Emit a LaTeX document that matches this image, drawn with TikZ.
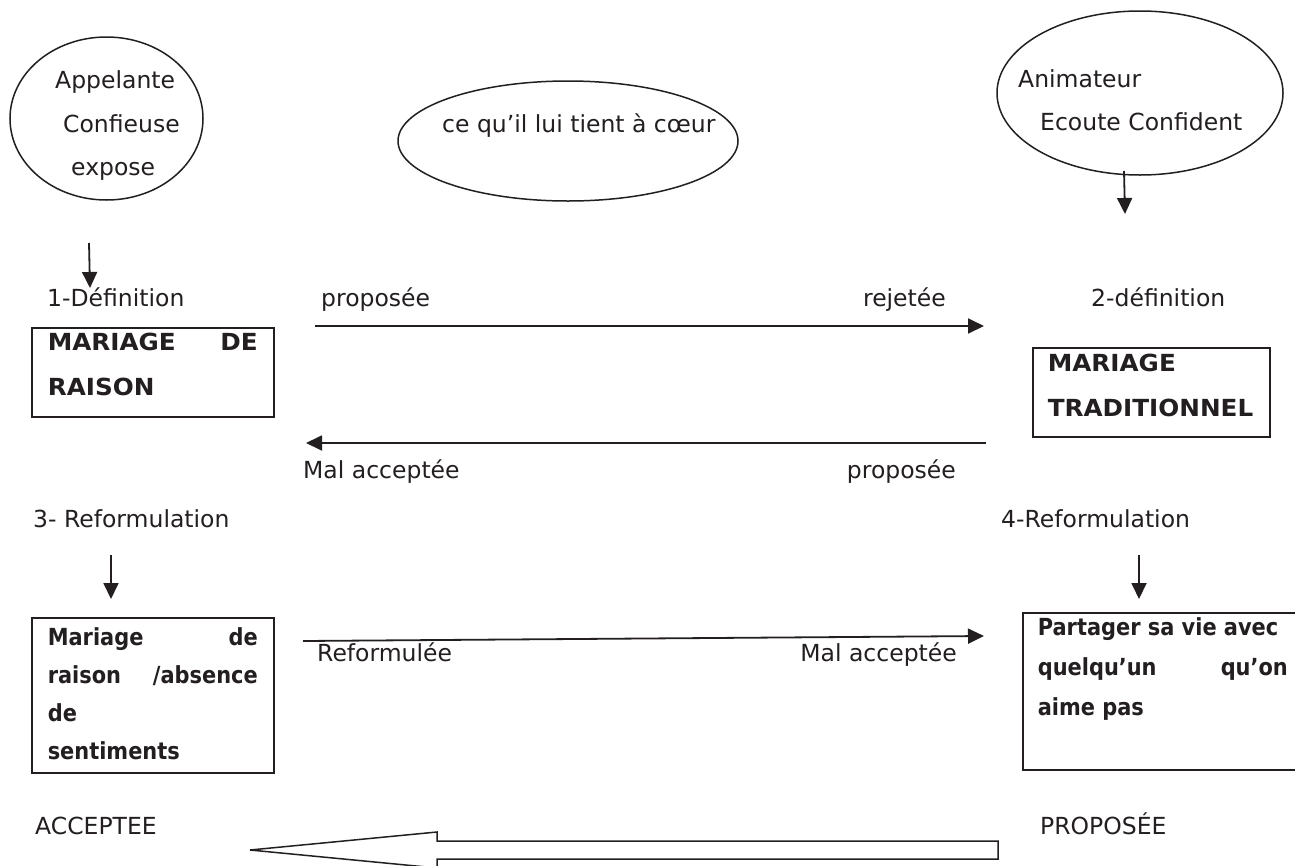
\documentclass[tikz,border=0pt]{standalone}
\usepackage{fontspec}
\setmainfont{DejaVu Sans}
% bold faces for the framed texts: wide capitals, narrower lower case
\newfontfamily\capsfont{DejaVu Sans Bold}[FakeStretch=1.05]
\newfontfamily\lowfont{DejaVu Sans Bold}[FakeStretch=0.89]
\usetikzlibrary{arrows.meta,shapes.geometric}
\definecolor{ink}{RGB}{35,31,32}
% framed text: total width, total height, left margin, text width, first baseline, line spacing, text
\newcommand\boxbody[7]{\parbox[c][#2][t]{#1}{\hspace*{#3}\parbox[t]{#4}{\baselineskip=#6\relax\rule{0pt}{#5}#7}}}
\begin{document}
\begin{tikzpicture}[x=1pt,y=-1pt,
  every node/.style={font=\fontsize{23.5}{28}\selectfont, text=ink, inner sep=0pt},
  lbl/.style={anchor=base west},
  lble/.style={anchor=base east},
  bubble/.style={draw=ink, ellipse, line width=1.5pt},
  frame/.style={draw=ink, line width=1.6pt, anchor=north west},
  capsframe/.style={frame, font=\fontsize{23.5}{28}\capsfont},
  lowframe/.style={frame, font=\fontsize{23.5}{28}\lowfont},
  link/.style={draw=ink, line width=1.8pt, -{Triangle[length=16pt,width=15pt]}},
]
\fill[white] (0,0) rectangle (1295,865);
\useasboundingbox (0,0) rectangle (1295,865);

% the three speakers / topic
\node[bubble, minimum width=193pt, minimum height=163pt] (appelante) at (106.5,118.5) {};
\node[lbl] (tapp1) at (55,88) {Appelante};
\node[lbl] (tapp2) at (63,132) {Confieuse};
\node[lbl] (tapp3) at (71,175) {expose};

\node[bubble, minimum width=340pt, minimum height=120pt] (sujet) at (568,141) {};
\node[lbl] (tsujet) at (442,132) {ce qu’il lui tient à cœur};

\node[bubble, minimum width=286pt, minimum height=164pt] (animateur) at (1140,93) {};
\node[lbl] (tani1) at (1018,87) {Animateur};
\node[lbl] (tani2) at (1040,130) {Ecoute Confident};

% first exchange
\node[lbl] (def1) at (47,306) {1-Définition};
\node[lbl] (prop1) at (321,306) {proposée};
\node[lble] (rej1) at (946,306) {rejetée};
\node[lbl] (def2) at (1091,306) {2-définition};

\node[capsframe] (box1) at (31,327)
  {\boxbody{242pt}{89pt}{16pt}{210pt}{23pt}{45pt}{MARIAGE\hfill DE\\RAISON}};
\node[capsframe] (box2) at (1032,347)
  {\boxbody{237pt}{89pt}{15pt}{218pt}{24pt}{45pt}{MARIAGE\\TRADITIONNEL}};

\node[lbl] (mal1) at (303,478) {Mal acceptée};
\node[lble] (prop2) at (956,478) {proposée};

% reformulations
\node[lbl] (ref3) at (33,527) {3- Reformulation};
\node[lbl] (ref4) at (1001,527) {4-Reformulation};

\node[lowframe] (box3) at (31,617)
  {\boxbody{242pt}{155pt}{16pt}{210pt}{28pt}{38pt}{Mariage\hfill de\\raison\hfill /absence\\de\\sentiments}};
\node[lowframe] (box4) at (1022,612)
  {\boxbody{280pt}{157pt}{15pt}{250pt}{23pt}{40pt}{Partager sa vie avec\\quelqu’un\hfill qu’on\\aime pas}};

\node[lbl] (refo) at (317,661) {Reformulée};
\node[lble] (mal2) at (957,661) {Mal acceptée};

\node[lbl] (acc) at (35,834) {ACCEPTEE};
\node[lbl] (prop3) at (1040,834) {PROPOSÉE};

% arrow end points
\coordinate (d1a) at (89,243);   \coordinate (d1b) at (90,288);
\coordinate (d2a) at (1124,171); \coordinate (d2b) at (1125,214);
\coordinate (h1a) at (315,326);  \coordinate (h1b) at (984,326);
\coordinate (h2a) at (986,443);  \coordinate (h2b) at (306,443);
\coordinate (d3a) at (111,555);  \coordinate (d3b) at (111,599);
\coordinate (d4a) at (1139,555); \coordinate (d4b) at (1139,599);
\coordinate (h3a) at (303,641);  \coordinate (h3b) at (984,636);

\draw[link] (d1a) -- (d1b);
\draw[link] (d2a) -- (d2b);
\draw[link] (h1a) -- (h1b);
\draw[link] (h2a) -- (h2b);
\draw[link] (d3a) -- (d3b);
\draw[link] (d4a) -- (d4b);
\draw[link] (h3a) -- (h3b);

% hollow block arrow at the bottom
\draw[ink, line width=1.5pt] (250,850) -- (437,832) -- (437,841) -- (998,841)
  -- (998,859) -- (437,859) -- (437,868) -- cycle;
\end{tikzpicture}
\end{document}
